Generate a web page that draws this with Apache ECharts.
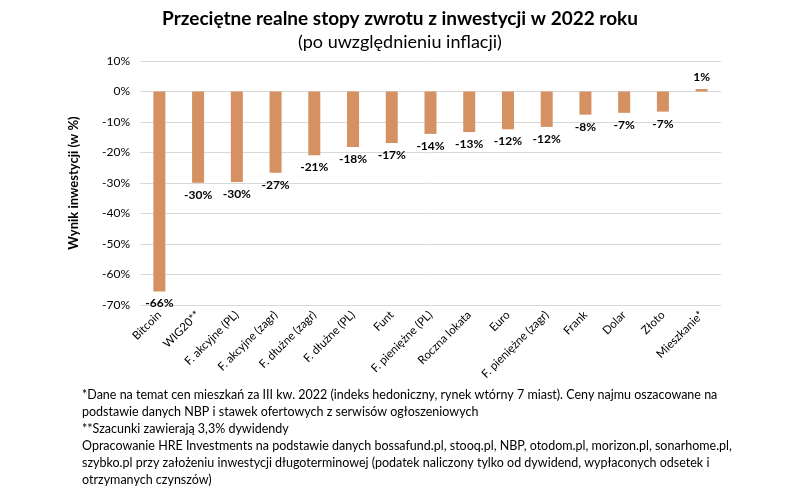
<!DOCTYPE html>
<html><head><meta charset="utf-8">
<script src="https://cdn.jsdelivr.net/npm/echarts@6/dist/echarts.min.js"></script>
<style>html,body{margin:0;padding:0;background:#fff}#c{width:800px;height:488px}</style>
</head><body><div id="c"></div>
<script>
const categories = ['Bitcoin','WIG20**','F. akcyjne (PL)','F. akcyjne (zagr)','F. dłużne (zagr)','F. dłużne (PL)','Funt','F. pieniężne (PL)','Roczna lokata','Euro','F. pieniężne (zagr)','Frank','Dolar','Złoto','Mieszkanie*'];
const values = [-65.6,-29.9,-29.7,-26.6,-20.9,-18.2,-16.9,-13.9,-13.3,-12.4,-11.6,-7.6,-7.0,-6.6,0.8];
const yTicks = {min:-70, max:10, interval:10};
const titleText = 'Przeciętne realne stopy zwrotu z inwestycji w 2022 roku';
const subtitleText = '(po uwzględnieniu inflacji)';
const yName = 'Wynik inwestycji (w %)';
const footnotes = [
 '*Dane na temat cen mieszkań za III kw. 2022 (indeks hedoniczny, rynek wtórny 7 miast). Ceny najmu oszacowane na',
 'podstawie danych NBP i stawek ofertowych z serwisów ogłoszeniowych',
 '**Szacunki zawierają 3,3% dywidendy',
 'Opracowanie HRE Investments na podstawie danych bossafund.pl, stooq.pl, NBP, otodom.pl, morizon.pl, sonarhome.pl,',
 'szybko.pl przy założeniu inwestycji długoterminowej (podatek naliczony tylko od dywidend, wypłaconych odsetek i',
 'otrzymanych czynszów)'
];
const F = 'Lato, "Open Sans", sans-serif';
const chart = echarts.init(document.getElementById('c'));
chart.setOption({
  animation:false,
  backgroundColor:'#fff',
  title:[
    {text:titleText,left:'center',top:4,textStyle:{fontFamily:F,fontSize:19,fontWeight:'bold',color:'#000'}},
    {text:subtitleText,left:'center',top:28,textStyle:{fontFamily:F,fontSize:18,fontWeight:'normal',color:'#000'}}
  ],
  grid:{left:140,right:79,top:61,bottom:183,containLabel:false},
  xAxis:{type:'category',data:categories,
    axisLine:{show:false},axisTick:{show:false},
    axisLabel:{rotate:45,interval:0,fontFamily:F,fontSize:11.5,color:'#000',margin:8}},
  yAxis:{type:'value',min:yTicks.min,max:yTicks.max,interval:yTicks.interval,
    name:yName,nameLocation:'middle',nameGap:60,
    nameTextStyle:{fontFamily:F,fontSize:13,fontWeight:'bold',color:'#000'},
    axisLabel:{formatter:v=>v+'%',fontFamily:F,fontSize:12,color:'#000',margin:10},
    splitLine:{lineStyle:{color:'#d9d9d9',width:1}},
    axisLine:{show:false},axisTick:{show:false}},
  series:[{type:'bar',barWidth:12,
    itemStyle:{color:'#D59161'},
    data:values.map(v=>({value:v,label:{position:v>=0?'top':'bottom'}})),
    label:{show:true,formatter:p=>Math.round(p.value)+'%',fontFamily:F,fontSize:12,fontWeight:'bold',color:'#000',distance:6}
  }],
  graphic:footnotes.map((t,i)=>({type:'text',left:82,top:388+i*17,
    style:{text:t,font:'12.5px Lato, "Open Sans", sans-serif',fill:'#000'}}))
});
</script></body></html>
